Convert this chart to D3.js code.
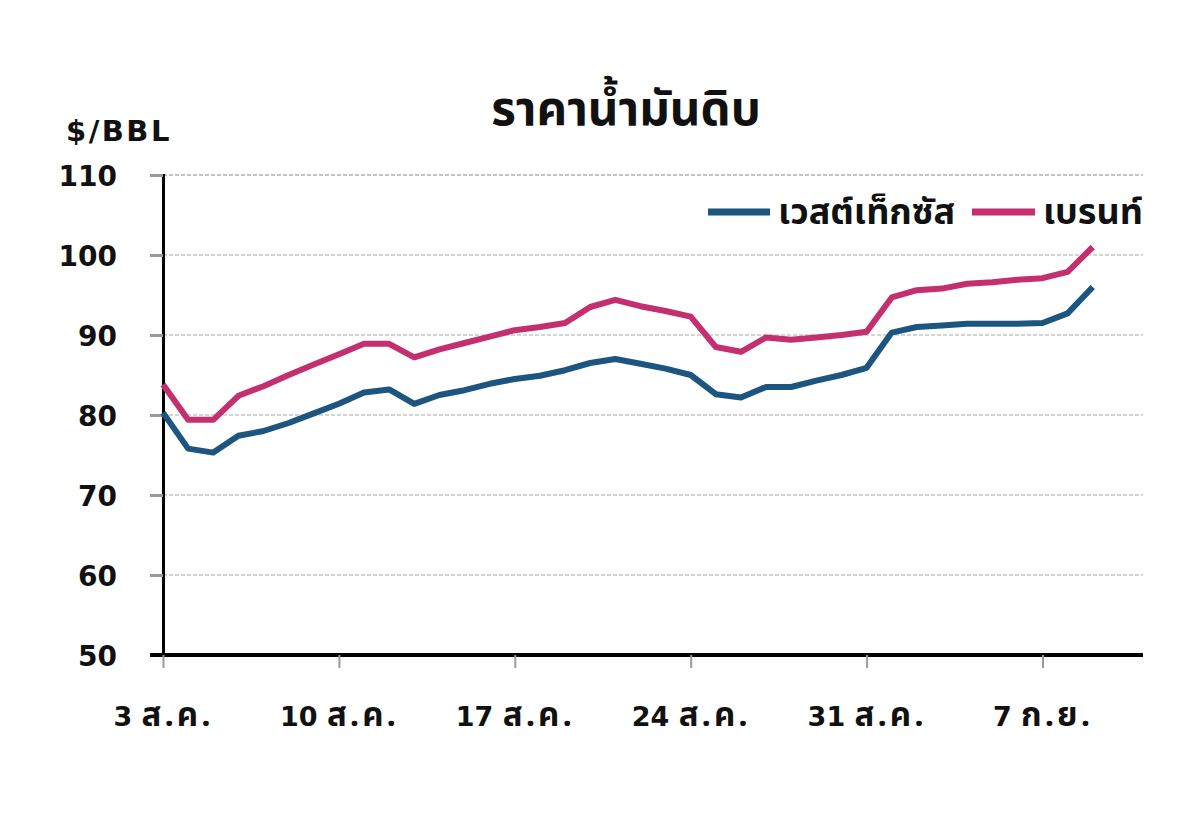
<!DOCTYPE html>
<html><head><meta charset="utf-8">
<script src="https://cdn.jsdelivr.net/npm/d3@7"></script>
<style>
html,body{margin:0;padding:0;background:#fff;}
text{font-family:"DejaVu Sans","Noto Sans Thai","Noto Sans",sans-serif;font-weight:bold;fill:#111;}
.th{font-family:"Noto Sans Thai","Noto Sans",sans-serif;}
</style></head>
<body><svg id="c" width="1200" height="828"></svg>
<script>
const dates = ["2010-08-03","2010-08-04","2010-08-05","2010-08-06","2010-08-07","2010-08-08","2010-08-09","2010-08-10","2010-08-11","2010-08-12",
"2010-08-13","2010-08-14","2010-08-15","2010-08-16","2010-08-17","2010-08-18","2010-08-19","2010-08-20","2010-08-21","2010-08-22",
"2010-08-23","2010-08-24","2010-08-25","2010-08-26","2010-08-27","2010-08-28","2010-08-29","2010-08-30","2010-08-31","2010-09-01",
"2010-09-02","2010-09-03","2010-09-04","2010-09-05","2010-09-06","2010-09-07","2010-09-08","2010-09-09"];
const wti = [80.3,75.8,75.3,77.4,78.0,79.0,80.2,81.4,82.8,83.2,
81.4,82.5,83.1,83.9,84.5,84.9,85.6,86.5,87.0,86.4,
85.8,85.0,82.6,82.2,83.5,83.5,84.3,85.0,85.9,90.3,
91.0,91.2,91.4,91.4,91.4,91.5,92.7,96.0];
const brent = [83.8,79.4,79.4,82.4,83.6,85.0,86.3,87.6,88.9,88.9,
87.2,88.2,89.0,89.8,90.6,91.0,91.5,93.5,94.4,93.6,
93.0,92.3,88.5,87.9,89.7,89.4,89.7,90.0,90.4,94.7,
95.6,95.8,96.4,96.6,96.9,97.1,97.9,101.0];
const seriesNames = ["เวสต์เท็กซัส","เบรนท์"];
const tickDates = ["2010-08-03","2010-08-10","2010-08-17","2010-08-24","2010-08-31","2010-09-07"];
const tickLabels = ["3 ส.ค.","10 ส.ค.","17 ส.ค.","24 ส.ค.","31 ส.ค.","7 ก.ย."];
const yTicks = [50,60,70,80,90,100,110];
const title = "ราคาน้ำมันดิบ";
const unit = "$/BBL";
const domainEnd = "2010-09-11";

const parse = d3.utcParse("%Y-%m-%d");
const svg = d3.select("#c");
const L = 163, R = 1143, T = 175, B = 655;
const x = d3.scaleUtc().domain([parse(dates[0]), parse(domainEnd)]).range([L, R]);
const y = d3.scaleLinear().domain([50,110]).range([B, T]);

// gridlines
svg.append("g").selectAll("line").data(yTicks.filter(v=>v>50)).join("line")
  .attr("x1", L).attr("x2", R).attr("y1", d=>y(d)).attr("y2", d=>y(d))
  .attr("stroke", d=>d===110?"#c4c4c4":"#d4d4d4").attr("stroke-width", 2).attr("stroke-dasharray", "4,2");

// y axis
const yAxis = svg.append("g").attr("transform", `translate(${L},0)`)
  .call(d3.axisLeft(y).tickValues(yTicks).tickSize(13).tickPadding(33).tickFormat(d3.format("d")));
yAxis.select(".domain").attr("stroke", "#000").attr("stroke-width", 3);
yAxis.selectAll(".tick line").attr("stroke", "#999").attr("stroke-width", 3);
yAxis.selectAll(".tick text").style("font-size", "28px").attr("fill", "#111").attr("dy","0.36em");

// x axis
const xAxis = svg.append("g").attr("transform", `translate(0,${B})`)
  .call(d3.axisBottom(x).tickValues(tickDates.map(parse)).tickSize(13).tickPadding(39)
    .tickFormat((d,i)=>tickLabels[i]));
xAxis.select(".domain").attr("stroke", "#000").attr("stroke-width", 4).attr("d", `M${L-13},0H${R}`);
xAxis.selectAll(".tick line").attr("stroke", "#999").attr("stroke-width", 2);
xAxis.selectAll(".tick text").attr("fill", "#111").attr("dy","0.72em").style("font-size","27px")
  .each(function(d,i){
    const parts = tickLabels[i].split(" ");
    const t = d3.select(this).text(null);
    t.append("tspan").text(parts[0] + " ");
    t.append("tspan").attr("class","th").style("font-size","33px").attr("letter-spacing","3px").text(parts[1]);
  });

// lines
const colors = ["#1c557f", "#c42f70"];
const line = d3.line().x((d,i)=>x(parse(dates[i]))).y(d=>y(d));
[wti, brent].forEach((s,k)=>{
  svg.append("path").datum(s).attr("d", line).attr("fill","none")
    .attr("stroke", colors[k]).attr("stroke-width", 6).attr("stroke-linejoin","round");
});

// title & unit
svg.append("text").attr("class","th").attr("x", 626).attr("y", 125).attr("text-anchor","middle")
  .style("font-size","47.5px").text(title);
svg.append("text").attr("x", 66).attr("y", 141).style("font-size","29px").attr("letter-spacing","2.5px").text(unit);

// legend
const leg = [{x1:708,x2:770,tx:778},{x1:972,x2:1035,tx:1043}];
leg.forEach((g,k)=>{
  svg.append("line").attr("x1",g.x1).attr("x2",g.x2).attr("y1",212).attr("y2",212)
    .attr("stroke",colors[k]).attr("stroke-width",7);
  svg.append("text").attr("class","th").attr("x",g.tx).attr("y",224).style("font-size","36px")
    .text(seriesNames[k]);
});
</script></body></html>
